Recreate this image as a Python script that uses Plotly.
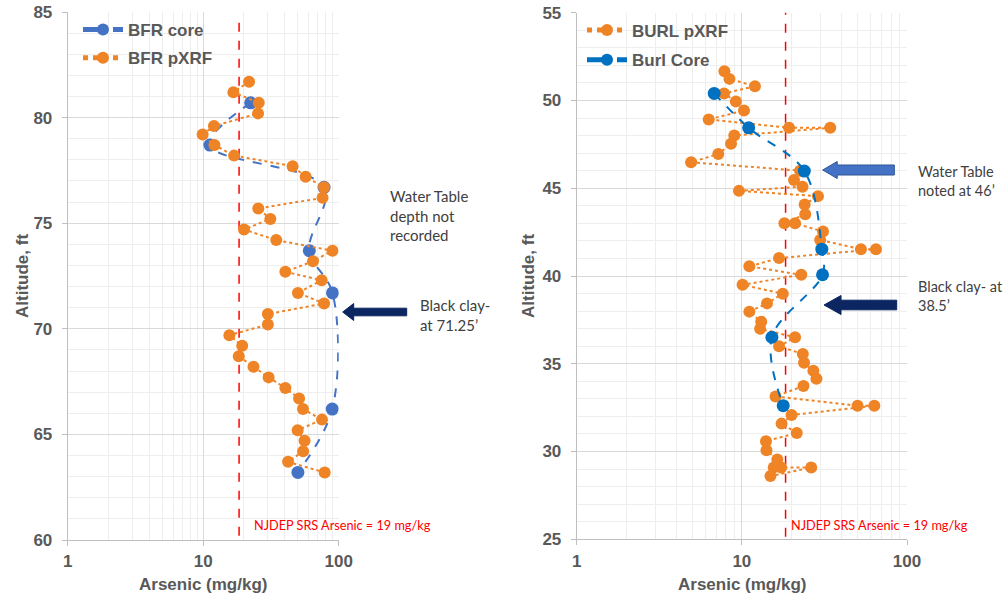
import plotly.graph_objects as go

# ---------------- data ----------------
bfr_pxrf_alt = [81.7, 81.2, 80.7, 80.2, 79.6, 79.2, 78.7, 78.2, 77.7, 77.2, 76.7, 76.2,
                75.7, 75.2, 74.7, 74.2, 73.7, 73.2, 72.7, 72.3, 71.7, 71.2, 70.7, 70.2,
                69.7, 69.2, 68.7, 68.2, 67.7, 67.2, 66.7, 66.2, 65.7, 65.2, 64.7, 64.2,
                63.7, 63.2]
bfr_pxrf_as = [21.8, 16.7, 25.7, 25.4, 12.0, 9.9, 12.1, 16.9, 45.7, 57.0, 78.0, 76.0,
               25.5, 31.3, 20.0, 34.6, 90.0, 64.6, 40.4, 74.9, 50.0, 78.0, 30.0, 30.0,
               15.6, 19.4, 18.3, 23.5, 30.4, 40.4, 51.0, 54.5, 75.3, 49.8, 56.0, 54.6,
               42.3, 78.8]
bfr_core_alt = [80.7, 78.7, 76.7, 73.7, 71.7, 66.2, 63.2]
bfr_core_as = [22.4, 11.2, 78.0, 60.7, 90.0, 89.6, 50.0]

burl_pxrf_alt = [51.67, 51.23, 50.81, 50.4, 49.94, 49.43, 48.92, 48.44, 48.44, 48.0,
                 47.53, 46.95, 46.48, 46.0, 45.47, 45.09, 44.85, 44.55, 44.07, 43.52,
                 43.0, 43.0, 42.53, 42.05, 41.53, 41.53, 41.02, 40.55, 40.07, 39.5,
                 38.99, 38.44, 37.97, 37.39, 36.99, 36.51, 36.0, 35.55, 35.06, 34.6,
                 34.15, 33.73, 33.14, 32.61, 32.61, 32.08, 31.59, 31.06, 30.59, 30.07,
                 29.55, 29.09, 29.09, 29.09, 28.6]
burl_pxrf_as = [7.84, 8.41, 12.0, 7.8, 9.2, 10.3, 6.3, 19.3, 34.3, 9.0,
                8.6, 7.2, 4.93, 22.5, 20.7, 23.3, 9.6, 28.9, 24.0, 24.2,
                18.1, 21.0, 31.0, 29.8, 52.6, 64.9, 16.8, 11.1, 22.9, 10.1,
                17.7, 14.2, 11.1, 13.1, 12.9, 21.0, 16.8, 23.4, 23.8, 27.1,
                28.3, 23.6, 16.0, 50.2, 63.4, 20.0, 17.4, 21.5, 14.0, 14.1,
                16.4, 15.6, 17.3, 26.3, 14.9]
burl_core_alt = [50.4, 48.44, 45.98, 41.53, 40.07, 36.51, 32.61]
burl_core_as = [6.8, 11.0, 23.9, 30.5, 30.8, 15.2, 17.8]

srs_value = 18.4          # drawn position of the NJDEP SRS line
srs_label = "NJDEP SRS Arsenic = 19 mg/kg"
x_ticks = [1, 10, 100]

# ---------------- styling ----------------
W, H = 1003, 600
ORANGE = "#EF8426"
BLUE_L = "#4472C4"
BLUE_R = "#0070C0"
GRID = "#D9D9D9"
MINOR = "#EEEEEE"
TXT = "#595959"
FONT = "Liberation Sans, Arial, sans-serif"
CAL = "Lato, Carlito, sans-serif"


def fx(x):
    return x / W


def fy(y):
    return 1 - y / H


fig = go.Figure()

# Left chart
fig.add_trace(go.Scatter(x=[srs_value, srs_value], y=[60.2, 84.6], mode="lines",
                         line=dict(color="#FF0000", width=1.5, dash="dash"),
                         showlegend=False, hoverinfo="skip", xaxis="x", yaxis="y"))
fig.add_trace(go.Scatter(x=bfr_core_as, y=bfr_core_alt, name="BFR core", legendgroup="a",
                         mode="lines+markers", line=dict(color=BLUE_L, width=2, dash="dash", shape="spline"),
                         marker=dict(color=BLUE_L, size=13), xaxis="x", yaxis="y", legend="legend"))
fig.add_trace(go.Scatter(x=bfr_pxrf_as, y=bfr_pxrf_alt, name="BFR pXRF", legendgroup="b",
                         mode="lines+markers", line=dict(color=ORANGE, width=2, dash="dot"),
                         marker=dict(color=ORANGE, size=12), xaxis="x", yaxis="y", legend="legend"))

# Right chart
fig.add_trace(go.Scatter(x=[srs_value, srs_value], y=[25.15, 55.2], mode="lines",
                         line=dict(color="#FF0000", width=1.5, dash="dash"),
                         showlegend=False, hoverinfo="skip", xaxis="x2", yaxis="y2", cliponaxis=False))
fig.add_trace(go.Scatter(x=burl_pxrf_as, y=burl_pxrf_alt, name="BURL pXRF", legendgroup="c",
                         mode="lines+markers", line=dict(color=ORANGE, width=2, dash="dot"),
                         marker=dict(color=ORANGE, size=12), xaxis="x2", yaxis="y2", legend="legend2"))
fig.add_trace(go.Scatter(x=burl_core_as, y=burl_core_alt, name="Burl Core", legendgroup="d",
                         mode="lines+markers", line=dict(color=BLUE_R, width=2, dash="dash", shape="spline"),
                         marker=dict(color=BLUE_R, size=13), xaxis="x2", yaxis="y2", legend="legend2"))

xaxis_common = dict(type="log", range=[0, 2], tickvals=x_ticks, ticktext=[str(t) for t in x_ticks],
                    showgrid=True, gridcolor=GRID, gridwidth=1,
                    minor=dict(dtick="D1", showgrid=True, gridcolor=MINOR, ticks=""),
                    showline=True, linecolor="#BFBFBF", linewidth=1,
                    ticks="outside", ticklen=5, tickcolor="#BFBFBF", ticklabelstandoff=1,
                    tickfont=dict(family=FONT, size=17, color=TXT, weight="bold"),
                    zeroline=False, fixedrange=True, automargin=False)
yaxis_common = dict(dtick=5, showgrid=True, gridcolor=GRID, gridwidth=1,
                    minor=dict(dtick=1, showgrid=True, gridcolor=MINOR, ticks=""),
                    showline=True, linecolor="#BFBFBF", linewidth=1,
                    ticks="outside", ticklen=5, tickcolor="#BFBFBF", ticklabelstandoff=6,
                    tickfont=dict(family=FONT, size=17, color=TXT, weight="bold"),
                    zeroline=False, fixedrange=True, automargin=False)

fig.update_layout(
    width=W, height=H, margin=dict(l=0, r=0, t=0, b=0, autoexpand=False),
    paper_bgcolor="white", plot_bgcolor="white",
    xaxis=dict(**xaxis_common, domain=[fx(67.7), fx(338.7)], anchor="y"),
    yaxis=dict(**yaxis_common, range=[60, 85], domain=[fy(540), fy(12)], anchor="x"),
    xaxis2=dict(**xaxis_common, domain=[fx(576.7), fx(907)], anchor="y2"),
    yaxis2=dict(**yaxis_common, range=[25, 55], domain=[fy(539.3), fy(12.7)], anchor="x2"),
    legend=dict(x=fx(78), y=fy(12), xanchor="left", yanchor="top", bgcolor="rgba(0,0,0,0)",
                font=dict(family=FONT, size=17, color=TXT, weight="bold"), itemsizing="constant",
                tracegroupgap=3, itemwidth=40),
    legend2=dict(x=fx(582), y=fy(12.5), xanchor="left", yanchor="top", bgcolor="rgba(0,0,0,0)",
                 font=dict(family=FONT, size=17, color=TXT, weight="bold"), itemsizing="constant",
                 tracegroupgap=4.5, itemwidth=40),
    showlegend=True,
)

ann = []
# axis titles
for cx in (203, 742):
    ann.append(dict(text="Arsenic (mg/kg)", x=fx(cx), y=fy(584), xref="paper", yref="paper",
                    xanchor="center", yanchor="middle",
                    showarrow=False, font=dict(family=FONT, size=17, color=TXT, weight="bold")))
for cx in (22, 528):
    ann.append(dict(text="Altitude, ft", x=fx(cx), y=fy(276), xref="paper", yref="paper",
                    xanchor="center", yanchor="middle",
                    showarrow=False, textangle=-90,
                    font=dict(family=FONT, size=17, color=TXT, weight="bold")))
# SRS labels
for lx in (251.7, 789):
    ann.append(dict(text=srs_label, x=fx(lx), y=fy(525), xref="paper", yref="paper",
                    xanchor="left", yanchor="middle", showarrow=False,
                    font=dict(family=CAL, size=12.7, color="#FF0000")))
# notes
notes = [
    ("Water Table<br>depth not<br>recorded", 388, 215, 15),
    ("Black clay-<br>at 71.25’", 418, 315, 15),
    ("Water Table<br>noted at 46’", 916, 181, 14.5),
    ("Black clay- at<br>38.5’", 916, 296, 14.5),
]
for t, lx, cy, fs in notes:
    ann.append(dict(text=t, x=fx(lx), y=fy(cy), xref="paper", yref="paper",
                    xanchor="left", yanchor="middle", align="left", showarrow=False,
                    font=dict(family=CAL, size=fs, color="#404040")))
fig.update_layout(annotations=ann)


def arrow(tip_x, tail_x, yc, body_h, head_h, head_len, fill, line):
    pts = [(tip_x, yc), (tip_x + head_len, yc - head_h), (tip_x + head_len, yc - body_h),
           (tail_x, yc - body_h), (tail_x, yc + body_h), (tip_x + head_len, yc + body_h),
           (tip_x + head_len, yc + head_h)]
    path = "M " + " L ".join(f"{fx(x):.5f},{fy(y):.5f}" for x, y in pts) + " Z"
    return dict(type="path", path=path, xref="paper", yref="paper",
                fillcolor=fill, line=dict(color=line, width=1))


fig.update_layout(shapes=[
    arrow(342.7, 406.7, 312, 3.8, 8.5, 11, "#0B2660", "#0B2660"),
    arrow(822.7, 894.3, 170, 5, 8.5, 14.5, "#4472C4", "#2F5597"),
    arrow(824, 896.7, 305, 4.8, 9.5, 17, "#0B2660", "#0B2660"),
])

fig.write_html("out.html", config={"displayModeBar": False, "staticPlot": True},
               post_script="document.body.style.margin='0';document.body.style.overflow='hidden';")
